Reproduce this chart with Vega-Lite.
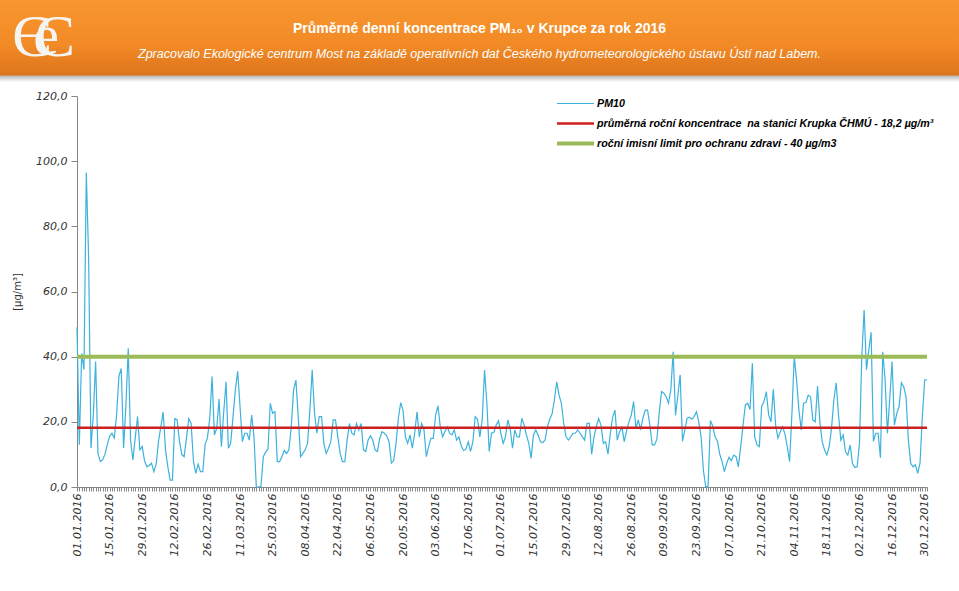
{
  "$schema": "https://vega.github.io/schema/vega-lite/v6.json",
  "padding": 0,
  "background": "white",
  "spacing": 8,
  "config": {"font": "Liberation Sans", "view": {"stroke": null}},
  "resolve": {"scale": {"color": "independent", "strokeWidth": "independent"}, "legend": {"color": "independent", "strokeWidth": "independent"}},
  "datasets": {
    "limits": [
      {"series": "průměrná roční koncentrace \u00a0na stanici Krupka ČHMÚ - 18,2 µg/m³", "value": 18.2},
      {"series": "roční imisní limit pro ochranu zdraví - 40 µg/m3", "value": 40}
    ],
    "pm": [
      {"date":"2016-01-01","pm10":49},{"date":"2016-01-02","pm10":13},{"date":"2016-01-03","pm10":41},{"date":"2016-01-04","pm10":36},{"date":"2016-01-05","pm10":96.5},{"date":"2016-01-06","pm10":70},{"date":"2016-01-07","pm10":12},{"date":"2016-01-08","pm10":22},{"date":"2016-01-09","pm10":38.5},{"date":"2016-01-10","pm10":10.3},{"date":"2016-01-11","pm10":7.8},{"date":"2016-01-12","pm10":8.3},{"date":"2016-01-13","pm10":10},{"date":"2016-01-14","pm10":13},{"date":"2016-01-15","pm10":15.5},{"date":"2016-01-16","pm10":16.5},{"date":"2016-01-17","pm10":15},{"date":"2016-01-18","pm10":22},{"date":"2016-01-19","pm10":34},{"date":"2016-01-20","pm10":36.4},{"date":"2016-01-21","pm10":12},{"date":"2016-01-22","pm10":25},{"date":"2016-01-23","pm10":42.6},{"date":"2016-01-24","pm10":14.4},{"date":"2016-01-25","pm10":8.3},{"date":"2016-01-26","pm10":15},{"date":"2016-01-27","pm10":21.6},{"date":"2016-01-28","pm10":11.4},{"date":"2016-01-29","pm10":12.4},{"date":"2016-01-30","pm10":8},{"date":"2016-01-31","pm10":6.2},
      {"date":"2016-02-01","pm10":6.6},{"date":"2016-02-02","pm10":7.3},{"date":"2016-02-03","pm10":4.7},{"date":"2016-02-04","pm10":7},{"date":"2016-02-05","pm10":14},{"date":"2016-02-06","pm10":18.5},{"date":"2016-02-07","pm10":23},{"date":"2016-02-08","pm10":11.4},{"date":"2016-02-09","pm10":6.2},{"date":"2016-02-10","pm10":2.1},{"date":"2016-02-11","pm10":2.1},{"date":"2016-02-12","pm10":21},{"date":"2016-02-13","pm10":20.6},{"date":"2016-02-14","pm10":14},{"date":"2016-02-15","pm10":10},{"date":"2016-02-16","pm10":9.3},{"date":"2016-02-17","pm10":15},{"date":"2016-02-18","pm10":21},{"date":"2016-02-19","pm10":19.5},{"date":"2016-02-20","pm10":8},{"date":"2016-02-21","pm10":4.2},{"date":"2016-02-22","pm10":7},{"date":"2016-02-23","pm10":4.7},{"date":"2016-02-24","pm10":4.7},{"date":"2016-02-25","pm10":13},{"date":"2016-02-26","pm10":15},{"date":"2016-02-27","pm10":21},{"date":"2016-02-28","pm10":33.9},{"date":"2016-02-29","pm10":16},
      {"date":"2016-03-01","pm10":18},{"date":"2016-03-02","pm10":27},{"date":"2016-03-03","pm10":12.4},{"date":"2016-03-04","pm10":23},{"date":"2016-03-05","pm10":32.3},{"date":"2016-03-06","pm10":11.9},{"date":"2016-03-07","pm10":13.4},{"date":"2016-03-08","pm10":21.6},{"date":"2016-03-09","pm10":29.8},{"date":"2016-03-10","pm10":35.5},{"date":"2016-03-11","pm10":24.7},{"date":"2016-03-12","pm10":13.9},{"date":"2016-03-13","pm10":16.5},{"date":"2016-03-14","pm10":16.5},{"date":"2016-03-15","pm10":14.4},{"date":"2016-03-16","pm10":22.1},{"date":"2016-03-17","pm10":15.4},{"date":"2016-03-18","pm10":0},{"date":"2016-03-19","pm10":0},{"date":"2016-03-20","pm10":0.2},{"date":"2016-03-21","pm10":9.3},{"date":"2016-03-22","pm10":10.7},{"date":"2016-03-23","pm10":11.6},{"date":"2016-03-24","pm10":25.7},{"date":"2016-03-25","pm10":22.6},{"date":"2016-03-26","pm10":23.1},{"date":"2016-03-27","pm10":7.8},{"date":"2016-03-28","pm10":7.8},{"date":"2016-03-29","pm10":9.3},{"date":"2016-03-30","pm10":11.2},{"date":"2016-03-31","pm10":10.3},
      {"date":"2016-04-01","pm10":11.4},{"date":"2016-04-02","pm10":18.5},{"date":"2016-04-03","pm10":29.8},{"date":"2016-04-04","pm10":32.8},{"date":"2016-04-05","pm10":21.6},{"date":"2016-04-06","pm10":9.3},{"date":"2016-04-07","pm10":10.3},{"date":"2016-04-08","pm10":11.4},{"date":"2016-04-09","pm10":13.4},{"date":"2016-04-10","pm10":23.6},{"date":"2016-04-11","pm10":36},{"date":"2016-04-12","pm10":22.6},{"date":"2016-04-13","pm10":16.5},{"date":"2016-04-14","pm10":21.6},{"date":"2016-04-15","pm10":21.6},{"date":"2016-04-16","pm10":13.4},{"date":"2016-04-17","pm10":10.3},{"date":"2016-04-18","pm10":11.9},{"date":"2016-04-19","pm10":13.9},{"date":"2016-04-20","pm10":20.6},{"date":"2016-04-21","pm10":20.6},{"date":"2016-04-22","pm10":15.4},{"date":"2016-04-23","pm10":10.3},{"date":"2016-04-24","pm10":7.8},{"date":"2016-04-25","pm10":7.8},{"date":"2016-04-26","pm10":14.4},{"date":"2016-04-27","pm10":19.5},{"date":"2016-04-28","pm10":16.5},{"date":"2016-04-29","pm10":16},{"date":"2016-04-30","pm10":19.5},
      {"date":"2016-05-01","pm10":17.5},{"date":"2016-05-02","pm10":19.5},{"date":"2016-05-03","pm10":11.4},{"date":"2016-05-04","pm10":10.9},{"date":"2016-05-05","pm10":14.4},{"date":"2016-05-06","pm10":15.7},{"date":"2016-05-07","pm10":14.4},{"date":"2016-05-08","pm10":11.4},{"date":"2016-05-09","pm10":10.9},{"date":"2016-05-10","pm10":14.9},{"date":"2016-05-11","pm10":17},{"date":"2016-05-12","pm10":16.5},{"date":"2016-05-13","pm10":15.7},{"date":"2016-05-14","pm10":13.9},{"date":"2016-05-15","pm10":7.3},{"date":"2016-05-16","pm10":8.1},{"date":"2016-05-17","pm10":13.4},{"date":"2016-05-18","pm10":21.1},{"date":"2016-05-19","pm10":25.9},{"date":"2016-05-20","pm10":23.6},{"date":"2016-05-21","pm10":15.4},{"date":"2016-05-22","pm10":13.4},{"date":"2016-05-23","pm10":16},{"date":"2016-05-24","pm10":11.9},{"date":"2016-05-25","pm10":16.5},{"date":"2016-05-26","pm10":23.1},{"date":"2016-05-27","pm10":15.4},{"date":"2016-05-28","pm10":19.5},{"date":"2016-05-29","pm10":17.5},{"date":"2016-05-30","pm10":9.3},{"date":"2016-05-31","pm10":12.4},
      {"date":"2016-06-01","pm10":14.9},{"date":"2016-06-02","pm10":14.9},{"date":"2016-06-03","pm10":22.1},{"date":"2016-06-04","pm10":24.9},{"date":"2016-06-05","pm10":18.5},{"date":"2016-06-06","pm10":15.4},{"date":"2016-06-07","pm10":17},{"date":"2016-06-08","pm10":18.5},{"date":"2016-06-09","pm10":16.5},{"date":"2016-06-10","pm10":16},{"date":"2016-06-11","pm10":17.5},{"date":"2016-06-12","pm10":14.4},{"date":"2016-06-13","pm10":15.4},{"date":"2016-06-14","pm10":12.6},{"date":"2016-06-15","pm10":11.2},{"date":"2016-06-16","pm10":11.6},{"date":"2016-06-17","pm10":13.9},{"date":"2016-06-18","pm10":10.9},{"date":"2016-06-19","pm10":13.9},{"date":"2016-06-20","pm10":21.6},{"date":"2016-06-21","pm10":20.8},{"date":"2016-06-22","pm10":15.4},{"date":"2016-06-23","pm10":20.6},{"date":"2016-06-24","pm10":35.9},{"date":"2016-06-25","pm10":25.7},{"date":"2016-06-26","pm10":10.9},{"date":"2016-06-27","pm10":16.5},{"date":"2016-06-28","pm10":16.8},{"date":"2016-06-29","pm10":19},{"date":"2016-06-30","pm10":20.3},
      {"date":"2016-07-01","pm10":16.5},{"date":"2016-07-02","pm10":13.4},{"date":"2016-07-03","pm10":15.4},{"date":"2016-07-04","pm10":20.6},{"date":"2016-07-05","pm10":18},{"date":"2016-07-06","pm10":11.9},{"date":"2016-07-07","pm10":17.5},{"date":"2016-07-08","pm10":15.4},{"date":"2016-07-09","pm10":15.4},{"date":"2016-07-10","pm10":21.1},{"date":"2016-07-11","pm10":19},{"date":"2016-07-12","pm10":16},{"date":"2016-07-13","pm10":13.4},{"date":"2016-07-14","pm10":8.8},{"date":"2016-07-15","pm10":16},{"date":"2016-07-16","pm10":17.5},{"date":"2016-07-17","pm10":16},{"date":"2016-07-18","pm10":13.9},{"date":"2016-07-19","pm10":13.6},{"date":"2016-07-20","pm10":14.4},{"date":"2016-07-21","pm10":18.5},{"date":"2016-07-22","pm10":20.8},{"date":"2016-07-23","pm10":22.4},{"date":"2016-07-24","pm10":26.7},{"date":"2016-07-25","pm10":32.3},{"date":"2016-07-26","pm10":28.2},{"date":"2016-07-27","pm10":25.7},{"date":"2016-07-28","pm10":19.5},{"date":"2016-07-29","pm10":15.4},{"date":"2016-07-30","pm10":14.4},{"date":"2016-07-31","pm10":15.4},
      {"date":"2016-08-01","pm10":16.5},{"date":"2016-08-02","pm10":16.5},{"date":"2016-08-03","pm10":17.5},{"date":"2016-08-04","pm10":16.5},{"date":"2016-08-05","pm10":15.4},{"date":"2016-08-06","pm10":14.4},{"date":"2016-08-07","pm10":19.5},{"date":"2016-08-08","pm10":19.5},{"date":"2016-08-09","pm10":10.1},{"date":"2016-08-10","pm10":15.4},{"date":"2016-08-11","pm10":18.5},{"date":"2016-08-12","pm10":21},{"date":"2016-08-13","pm10":19},{"date":"2016-08-14","pm10":13.4},{"date":"2016-08-15","pm10":13.9},{"date":"2016-08-16","pm10":10.1},{"date":"2016-08-17","pm10":16.3},{"date":"2016-08-18","pm10":21.4},{"date":"2016-08-19","pm10":23.6},{"date":"2016-08-20","pm10":14.4},{"date":"2016-08-21","pm10":17},{"date":"2016-08-22","pm10":18.3},{"date":"2016-08-23","pm10":13.9},{"date":"2016-08-24","pm10":17.3},{"date":"2016-08-25","pm10":20},{"date":"2016-08-26","pm10":22},{"date":"2016-08-27","pm10":26.2},{"date":"2016-08-28","pm10":18},{"date":"2016-08-29","pm10":20.6},{"date":"2016-08-30","pm10":17.5},{"date":"2016-08-31","pm10":21.1},
      {"date":"2016-09-01","pm10":23.6},{"date":"2016-09-02","pm10":23.6},{"date":"2016-09-03","pm10":19},{"date":"2016-09-04","pm10":12.9},{"date":"2016-09-05","pm10":12.9},{"date":"2016-09-06","pm10":14.6},{"date":"2016-09-07","pm10":22.6},{"date":"2016-09-08","pm10":29.3},{"date":"2016-09-09","pm10":28.8},{"date":"2016-09-10","pm10":27.7},{"date":"2016-09-11","pm10":25.7},{"date":"2016-09-12","pm10":29.8},{"date":"2016-09-13","pm10":41.5},{"date":"2016-09-14","pm10":22},{"date":"2016-09-15","pm10":28},{"date":"2016-09-16","pm10":34.4},{"date":"2016-09-17","pm10":14},{"date":"2016-09-18","pm10":17.5},{"date":"2016-09-19","pm10":21.1},{"date":"2016-09-20","pm10":21.4},{"date":"2016-09-21","pm10":20.8},{"date":"2016-09-22","pm10":21.6},{"date":"2016-09-23","pm10":23.1},{"date":"2016-09-24","pm10":20},{"date":"2016-09-25","pm10":15.4},{"date":"2016-09-26","pm10":5},{"date":"2016-09-27","pm10":0},{"date":"2016-09-28","pm10":0.3},{"date":"2016-09-29","pm10":20.4},{"date":"2016-09-30","pm10":18.7},
      {"date":"2016-10-01","pm10":15.4},{"date":"2016-10-02","pm10":14.1},{"date":"2016-10-03","pm10":10.1},{"date":"2016-10-04","pm10":7.8},{"date":"2016-10-05","pm10":4.7},{"date":"2016-10-06","pm10":7.3},{"date":"2016-10-07","pm10":9.1},{"date":"2016-10-08","pm10":8.1},{"date":"2016-10-09","pm10":9.8},{"date":"2016-10-10","pm10":9.3},{"date":"2016-10-11","pm10":6.2},{"date":"2016-10-12","pm10":12.4},{"date":"2016-10-13","pm10":19},{"date":"2016-10-14","pm10":25.2},{"date":"2016-10-15","pm10":25.7},{"date":"2016-10-16","pm10":23.8},{"date":"2016-10-17","pm10":38},{"date":"2016-10-18","pm10":15.4},{"date":"2016-10-19","pm10":12.9},{"date":"2016-10-20","pm10":12.4},{"date":"2016-10-21","pm10":24.7},{"date":"2016-10-22","pm10":26.2},{"date":"2016-10-23","pm10":29.3},{"date":"2016-10-24","pm10":22.1},{"date":"2016-10-25","pm10":20},{"date":"2016-10-26","pm10":30},{"date":"2016-10-27","pm10":19},{"date":"2016-10-28","pm10":15},{"date":"2016-10-29","pm10":17},{"date":"2016-10-30","pm10":18.5},{"date":"2016-10-31","pm10":16.3},
      {"date":"2016-11-01","pm10":12.4},{"date":"2016-11-02","pm10":7.8},{"date":"2016-11-03","pm10":22.6},{"date":"2016-11-04","pm10":40},{"date":"2016-11-05","pm10":32.8},{"date":"2016-11-06","pm10":23.6},{"date":"2016-11-07","pm10":17.5},{"date":"2016-11-08","pm10":25.7},{"date":"2016-11-09","pm10":25.9},{"date":"2016-11-10","pm10":28.2},{"date":"2016-11-11","pm10":27.7},{"date":"2016-11-12","pm10":20.6},{"date":"2016-11-13","pm10":20},{"date":"2016-11-14","pm10":31},{"date":"2016-11-15","pm10":20},{"date":"2016-11-16","pm10":13.9},{"date":"2016-11-17","pm10":11.4},{"date":"2016-11-18","pm10":9.8},{"date":"2016-11-19","pm10":12.4},{"date":"2016-11-20","pm10":18},{"date":"2016-11-21","pm10":26.7},{"date":"2016-11-22","pm10":32},{"date":"2016-11-23","pm10":22.1},{"date":"2016-11-24","pm10":14.4},{"date":"2016-11-25","pm10":16},{"date":"2016-11-26","pm10":10.8},{"date":"2016-11-27","pm10":9.8},{"date":"2016-11-28","pm10":12.9},{"date":"2016-11-29","pm10":7.3},{"date":"2016-11-30","pm10":6},
      {"date":"2016-12-01","pm10":6.2},{"date":"2016-12-02","pm10":13.4},{"date":"2016-12-03","pm10":40},{"date":"2016-12-04","pm10":54.3},{"date":"2016-12-05","pm10":36},{"date":"2016-12-06","pm10":42},{"date":"2016-12-07","pm10":47.5},{"date":"2016-12-08","pm10":14},{"date":"2016-12-09","pm10":16.5},{"date":"2016-12-10","pm10":16.5},{"date":"2016-12-11","pm10":9},{"date":"2016-12-12","pm10":41.5},{"date":"2016-12-13","pm10":33},{"date":"2016-12-14","pm10":16.5},{"date":"2016-12-15","pm10":27},{"date":"2016-12-16","pm10":38.5},{"date":"2016-12-17","pm10":19},{"date":"2016-12-18","pm10":22.5},{"date":"2016-12-19","pm10":24.7},{"date":"2016-12-20","pm10":32},{"date":"2016-12-21","pm10":30.8},{"date":"2016-12-22","pm10":27.7},{"date":"2016-12-23","pm10":14.4},{"date":"2016-12-24","pm10":7.3},{"date":"2016-12-25","pm10":6.2},{"date":"2016-12-26","pm10":6.8},{"date":"2016-12-27","pm10":4.2},{"date":"2016-12-28","pm10":7.3},{"date":"2016-12-29","pm10":21.6},{"date":"2016-12-30","pm10":32.8},{"date":"2016-12-31","pm10":33}
    ]
  },
  "vconcat": [
    {
      "width": 959,
      "height": 82,
      "data": {"values": [{"logo": "ec"}]},
      "title": {
        "text": "Průměrné denní koncentrace PM₁₀ v Krupce za rok 2016",
        "subtitle": "Zpracovalo Ekologické centrum Most na základě operativních dat Českého hydrometeorologického ústavu Ústí nad Labem.",
        "anchor": "middle",
        "orient": "top",
        "offset": -60,
        "color": "white",
        "font": "Liberation Sans",
        "fontSize": 14,
        "fontWeight": "bold",
        "subtitleColor": "white",
        "subtitleFont": "Liberation Sans",
        "subtitleFontSize": 12.5,
        "subtitleFontStyle": "italic",
        "subtitlePadding": 12
      },
      "layer": [
        {
          "mark": {"type": "rect", "color": {"gradient": "linear", "x1": 0, "y1": 0, "x2": 0, "y2": 1, "stops": [{"offset": 0, "color": "#f8962f"}, {"offset": 0.55, "color": "#f28a26"}, {"offset": 0.915, "color": "#dd751c"}, {"offset": 0.93, "color": "#bdbdbd"}, {"offset": 1, "color": "#ffffff"}]}},
          "encoding": {}
        },
        {
          "mark": {"type": "text", "font": "Liberation Serif", "fontSize": 60, "color": "#f6f4f1", "align": "center", "baseline": "alphabetic"},
          "encoding": {
            "text": {"value": "Є"},
            "x": {"datum": 0.0334, "type": "quantitative", "scale": {"domain": [0, 1]}, "axis": null},
            "y": {"datum": 0.317, "type": "quantitative", "scale": {"domain": [0, 1]}, "axis": null}
          }
        },
        {
          "mark": {"type": "text", "font": "Liberation Serif", "fontSize": 58, "color": "#f6f4f1", "align": "center", "baseline": "alphabetic"},
          "encoding": {
            "text": {"value": "e"},
            "x": {"datum": 0.048, "type": "quantitative", "scale": {"domain": [0, 1]}, "axis": null},
            "y": {"datum": 0.341, "type": "quantitative", "scale": {"domain": [0, 1]}, "axis": null}
          }
        },
        {
          "mark": {"type": "text", "font": "Liberation Serif", "fontSize": 60, "color": "#f6f4f1", "align": "center", "baseline": "alphabetic"},
          "encoding": {
            "text": {"value": "C"},
            "x": {"datum": 0.0574, "type": "quantitative", "scale": {"domain": [0, 1]}, "axis": null},
            "y": {"datum": 0.317, "type": "quantitative", "scale": {"domain": [0, 1]}, "axis": null}
          }
        }
      ]
    },
    {
      "resolve": {"scale": {"color": "independent", "strokeWidth": "independent"}, "legend": {"color": "independent", "strokeWidth": "independent"}},
      "hconcat": [
        {
          "width": 77,
          "height": 391,
          "data": {"values": [{"t": ""}]},
          "mark": {"type": "text"},
          "encoding": {"text": {"field": "t"}}
        },
        {
          "width": 850,
          "height": 391,
          "layer": [
            {
              "data": {"name": "pm"},
              "mark": {"type": "line", "interpolate": "linear"},
              "encoding": {
                "x": {
                  "field": "date", "type": "temporal",
                  "scale": {"type": "utc", "domain": [{"year": 2016, "month": 1, "date": 1, "utc": true}, {"year": 2016, "month": 12, "date": 31, "utc": true}]},
                  "axis": {
                    "title": null, "grid": false,
                    "tickCount": {"interval": "day", "step": 1},
                    "labelExpr": "round((datum.value - utc(2016,0,1))/864e5) % 14 == 0 ? utcFormat(datum.value, '%d.%m.%Y') : ''",
                    "labelAngle": -90, "labelOverlap": false, "labelFlush": false, "labelBound": false,
                    "labelFont": "DejaVu Sans", "labelFontStyle": "italic", "labelFontSize": 11, "labelColor": "#333333",
                    "labelPadding": 2, "tickSize": 4, "tickColor": "#868686", "domainColor": "#868686"
                  }
                },
                "y": {
                  "field": "pm10", "type": "quantitative",
                  "scale": {"domain": [0, 120]},
                  "axis": {
                    "title": "[µg/m³]", "values": [0, 20, 40, 60, 80, 100, 120], "grid": false,
                    "labelExpr": "replace(format(datum.value, '.1f'), '.', ',')",
                    "labelFont": "DejaVu Sans", "labelFontStyle": "italic", "labelFontSize": 11, "labelColor": "#333333",
                    "labelPadding": 4, "tickSize": 6, "tickColor": "#868686", "domainColor": "#868686",
                    "titleFont": "DejaVu Sans", "titleFontSize": 10, "titleFontWeight": "normal", "titleColor": "#333333", "titlePadding": 13
                  }
                },
                "color": {
                  "datum": "PM10", "type": "nominal",
                  "scale": {"domain": ["PM10", "průměrná roční koncentrace \u00a0na stanici Krupka ČHMÚ - 18,2 µg/m³", "roční imisní limit pro ochranu zdraví - 40 µg/m3"], "range": ["#3cb2dc", "#cc1f1f", "#9bbb59"]},
                  "legend": {
                    "title": null, "orient": "none", "legendX": 478, "legendY": -2,
                    "symbolType": "stroke", "symbolSize": 1369, "clipHeight": 19, "rowPadding": 1, "padding": 0,
                    "labelFont": "Liberation Sans", "labelFontSize": 10.7, "labelFontStyle": "italic", "labelFontWeight": "bold",
                    "labelColor": "#000000", "labelLimit": 500, "labelOffset": 1
                  }
                },
                "strokeWidth": {
                  "datum": "PM10", "type": "nominal",
                  "scale": {"domain": ["PM10", "průměrná roční koncentrace \u00a0na stanici Krupka ČHMÚ - 18,2 µg/m³", "roční imisní limit pro ochranu zdraví - 40 µg/m3"], "range": [1.2, 4, 4]},
                  "legend": {"title": null}
                }
              }
            },
            {
              "data": {"name": "limits"},
              "mark": {"type": "rule"},
              "encoding": {
                "y": {"field": "value", "type": "quantitative"},
                "color": {"field": "series", "type": "nominal", "legend": {"title": null}},
                "strokeWidth": {"field": "series", "type": "nominal", "legend": {"title": null}}
              }
            }
          ]
        }
      ],
      "spacing": 0,
      "bounds": "flush"
    }
  ]
}
